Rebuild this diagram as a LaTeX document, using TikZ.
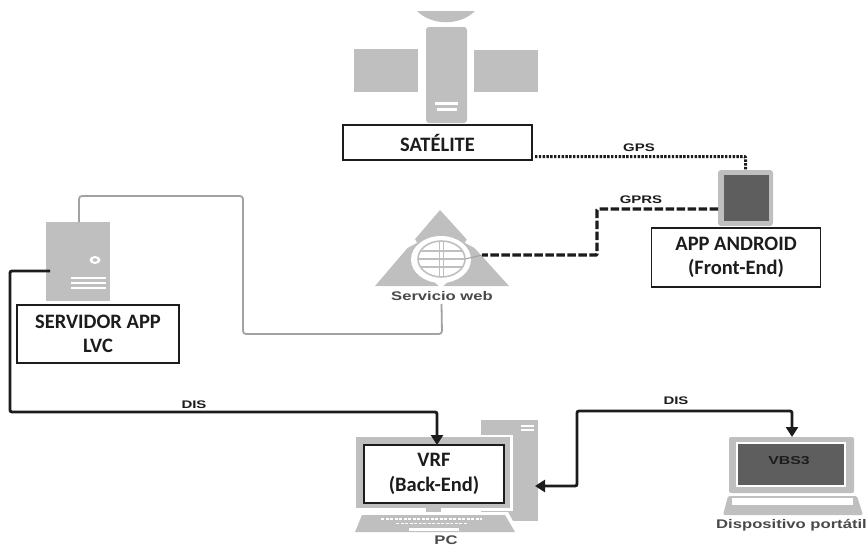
\documentclass[tikz,border=0pt]{standalone}
\usepackage{fontspec}
\usetikzlibrary{arrows.meta,shapes.geometric}
\setmainfont{Carlito}
\newfontfamily\lblfont{Liberation Sans}
\definecolor{icon}{HTML}{BFBFBF}
\definecolor{ink}{HTML}{1C1C1C}
\definecolor{darkscreen}{HTML}{5E5E5E}
\tikzset{
  part/.style={fill=icon,draw=none,inner sep=0pt,outer sep=0pt},
  cutout/.style={fill=white,draw=none,inner sep=0pt,outer sep=0pt},
  boxlabel/.style={draw=ink,line width=1.4pt,fill=white,inner sep=0pt,outer sep=0pt,align=center,text=ink,
    font=\fontsize{20.5}{24.5}\selectfont\bfseries},
  smalllabel/.style={inner sep=0pt,text=ink,font=\lblfont\fontsize{11}{13}\selectfont\bfseries,xscale=1.36,transform shape},
  iconlabel/.style={inner sep=0pt,text=ink!80,font=\lblfont\fontsize{12.5}{14}\selectfont\bfseries,xscale=1.33,transform shape},
  thinlink/.style={draw=icon!85!black,line width=1.8pt,rounded corners=3pt},
  dislink/.style={draw=ink,line width=2.9pt,rounded corners=2pt},
  gpslink/.style={draw=ink,line width=3pt,dash pattern=on 2.4pt off 1.4pt,rounded corners=1pt},
  gprslink/.style={draw=ink,line width=3.2pt,dash pattern=on 8.5pt off 2.5pt,rounded corners=1pt},
  bigtip/.style={-{Triangle[length=10pt,width=12pt]}}
}
\begin{document}
\begin{tikzpicture}[x=1pt,y=-1pt]
\useasboundingbox (0,0) rectangle (867,546);
% satellite
\fill[icon] (417,11) .. controls (432,26) and (460,26) .. (475,11) -- cycle;
\node[part,minimum width=64pt,minimum height=43pt] (panelL) at (386,70.5) {};
\node[part,minimum width=64pt,minimum height=42pt] (panelR) at (506,71) {};
\node[part,rounded corners=3pt,minimum width=41pt,minimum height=96pt] (satbody) at (446.5,75) {};
\node[cutout,minimum width=23pt,minimum height=3pt] (satA) at (446.5,103) {};
\node[cutout,minimum width=20pt,minimum height=3pt] (satB) at (447,109.5) {};
\node[boxlabel,minimum width=189pt,minimum height=35pt] (satbox) at (437.5,142.5) {SATÉLITE};
% tablet
\node[part,rounded corners=3pt,minimum width=55pt,minimum height=56pt] (tablet) at (745.5,198) {};
\node[fill=darkscreen,inner sep=0pt,minimum width=45pt,minimum height=46pt] (tabscreen) at (746.5,198) {};
\node[boxlabel,minimum width=169pt,minimum height=59pt] (appbox) at (736,257.5) {APP ANDROID\\(Front-End)};
% web service
\fill[icon] (440,210) -- (375,286) -- (509,286) -- cycle;
\fill[white] (428,276) -- (454,276) -- (441,288) -- cycle;
\draw[white,line width=4pt] (403,248) -- (416,241) (479,248) -- (466,241);
\node[ellipse,fill=white,inner sep=0pt,outer sep=0pt,minimum width=60pt,minimum height=47pt] (globehalo) at (441,259.5) {};
\node[ellipse,draw=icon,fill=white,line width=1.6pt,inner sep=0pt,outer sep=0pt,minimum width=47pt,minimum height=36pt] (globe) at (441.5,259) {};
\draw[icon,line width=1.1pt] (globe.west) -- (globe.east)
  (421,251) -- (462,251) (421,267) -- (462,267);
\draw[icon,line width=1pt] (439.5,241) -- (439.5,277) (443.5,241) -- (443.5,277);
\node[iconlabel] (weblabel) at (442,296) {Servicio web};
% server
\node[part,minimum width=64pt,minimum height=79pt] (server) at (78,261.5) {};
\node[ellipse,cutout,minimum width=11pt,minimum height=8pt] (led) at (95,260) {};
\node[ellipse,fill=icon,inner sep=0pt,minimum width=5pt,minimum height=3.5pt] (ledin) at (95,260) {};
\node[cutout,minimum width=35pt,minimum height=2pt] (srvA) at (88,278) {};
\node[cutout,minimum width=35pt,minimum height=2pt] (srvB) at (88,283) {};
\node[cutout,minimum width=35pt,minimum height=2pt] (srvC) at (88,287.5) {};
\node[boxlabel,minimum width=162pt,minimum height=58pt] (srvbox) at (98,334) {SERVIDOR APP\\LVC};
% PC
\node[part,minimum width=57pt,minimum height=101pt] (tower) at (509.5,470.5) {};
\node[cutout,minimum width=13pt,minimum height=2pt] (towerA) at (527,426) {};
\node[cutout,minimum width=13pt,minimum height=2pt] (towerB) at (527,430) {};
\node[cutout,minimum width=160pt,minimum height=76pt] (monhalo) at (433,472.5) {};
\node[part,minimum width=154pt,minimum height=71pt] (monitor) at (433,472.5) {};
\node[boxlabel,minimum width=140pt,minimum height=58pt] (vrfbox) at (434,474) {VRF\\(Back-End)};
\node[part,minimum width=15pt,minimum height=6pt] (stand) at (433,511) {};
\fill[white] (358,512) -- (508,512) -- (520,534) -- (352,534) -- cycle;
\fill[icon] (362,515) -- (505,515) -- (515,532) -- (355,532) -- cycle;
\draw[white,line width=1.8pt,dash pattern=on 3pt off 1.5pt] (381,519) -- (482,519) (396,523.5) -- (468,523.5);
\node[cutout,minimum width=50pt,minimum height=3pt] (spacebar) at (434,529.5) {};
\node[iconlabel] (pclabel) at (446,540) {PC};
% laptop
\node[part,rounded corners=2pt,minimum width=125pt,minimum height=56pt] (laptop) at (791.5,465) {};
\node[cutout,minimum width=110pt,minimum height=45pt] (lapwhite) at (791,464.5) {};
\node[fill=darkscreen,inner sep=0pt,minimum width=106pt,minimum height=41pt] (lapscreen) at (791,464.5) {};
\node[inner sep=0pt,text=ink,font=\lblfont\fontsize{11.5}{13}\selectfont\bfseries,xscale=1.38,transform shape] (vbslabel) at (789,461) {VBS3};
\fill[icon,rounded corners=1.5pt] (728,496) -- (857,496) -- (863,515) -- (723,515) -- cycle;
\node[cutout,minimum width=121pt,minimum height=7pt] (lapkeys) at (792,501.5) {};
\node[iconlabel] (laplabel) at (791.5,525) {Dispositivo portátil};
% link labels
\node[smalllabel] (gpslabel) at (639,148) {GPS};
\node[smalllabel] (gprslabel) at (641,200) {GPRS};
\node[smalllabel] (dislabelA) at (194,405) {DIS};
\node[smalllabel] (dislabelB) at (676,401) {DIS};
% connectors
\coordinate (gprsA) at (597,209);
\coordinate (gprsB) at (597,255);
\coordinate (thinA) at (442,334);
\coordinate (thinB) at (243,334);
\coordinate (thinC) at (243,196);
\coordinate (thinD) at (79,196);
\coordinate (gprsC) at (482,255);
\draw[thinlink] ([yshift=-3pt]weblabel.south -| globe) -- (thinA) -- (thinB) -- (thinC) -- (thinD) -- (server.north -| thinD);
\draw[icon!85!black,line width=1pt] (globe.east) -- (gprsC);
\draw[gprslink] ([yshift=-11pt]tablet.west) -- (gprsA) -- (gprsB) -- (gprsC);
\draw[gpslink] ([yshift=3.5pt,xshift=3pt]satbox.south east) -| (tablet.north);
\coordinate (disA) at (10,271);
\coordinate (disB) at (10,412);
\coordinate (disC) at (437,412);
\draw[dislink,bigtip] ([yshift=-9.5pt,xshift=4pt]server.west) -- (disA) -- (disB) -- (disC) -- (vrfbox.north -| disC);
\coordinate (disD) at (577,486);
\coordinate (disE) at (577,411);
\coordinate (disF) at (792,411);
\draw[dislink,{Triangle[length=10pt,width=12pt]}-{Triangle[length=10pt,width=12pt]}] ([xshift=-3pt,yshift=-15.5pt]tower.east) -- (disD) -- (disE) -- (disF) -- (laptop.north -| disF);
\end{tikzpicture}
\end{document}
